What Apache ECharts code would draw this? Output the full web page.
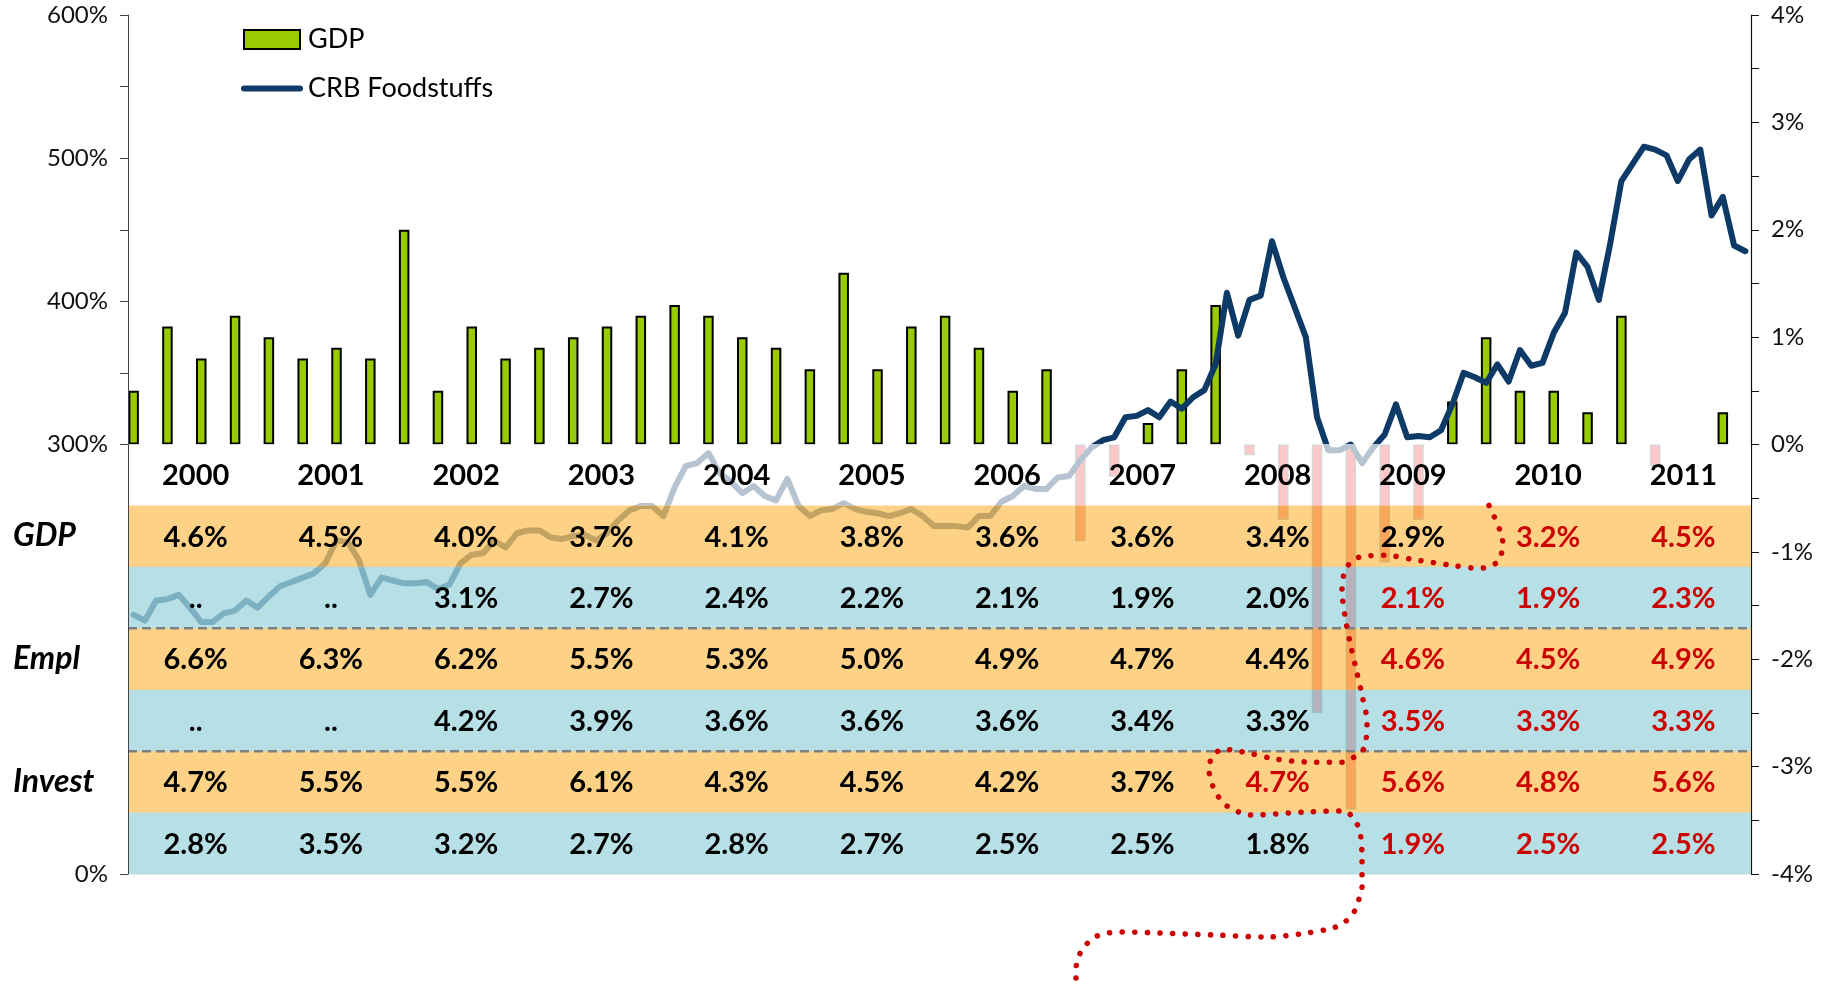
<!DOCTYPE html>
<html><head><meta charset="utf-8">
<script src="https://cdn.jsdelivr.net/npm/echarts@6/dist/echarts.min.js"></script>
<style>html,body{margin:0;padding:0;background:#fff}#c{width:1827px;height:984px}</style>
</head><body><div id="c"></div>
<script>
// ---------- data ----------
const years = ['2000','2001','2002','2003','2004','2005','2006','2007','2008','2009','2010','2011'];
const gdpQuarterly = [
  0.5,1.1,0.8,1.2, 1.0,0.8,0.9,0.8, 2.0,0.5,1.1,0.8, 0.9,1.0,1.1,1.2,
  1.3,1.2,1.0,0.9, 0.7,1.6,0.7,1.1, 1.2,0.9,0.5,0.7, -0.9,-0.3,0.2,0.7,
  1.3,-0.1,-0.7,-2.5, -3.4,-1.1,-0.7,0.4, 1.0,0.5,0.5,0.3, 1.2,-0.2,0.0,0.3
];
const crbMonthly = [
  181,177,191,192,195,186,176,176,182,184,191,186,
  194,201,204,207,210,217,233,232,219,195,207,205,
  203,203,204,199,202,217,223,224,233,228,238,240,
  240,235,234,236,237,233,238,247,254,257,257,250,
  270,285,287,294,280,274,266,271,264,261,276,257,
  250,254,255,259,255,253,252,250,252,255,250,243,
  243,243,242,250,250,260,264,271,269,269,277,278,
  289,298,303,305,319,320,324,319,330,325,333,338,
  356,406,376,401,404,442,417,396,375,319,296,296,
  300,287,298,307,328,305,306,305,310,328,350,347,
  343,356,344,366,355,357,378,392,434,424,401,440,
  484,496,508,506,502,484,499,506,460,473,439,435
];
const leftTickValues = [0,300,350,400,450,500,550,600];
const leftLabelValues = [0,300,400,500,600];
const rowNames = ['', 'GDP', '', 'Empl', '', 'Invest', ''];
const gdpRowA = ['4.6%','4.5%','4.0%','3.7%','4.1%','3.8%','3.6%','3.6%','3.4%','2.9%','3.2%','4.5%'];
const gdpRowB = ['..','..','3.1%','2.7%','2.4%','2.2%','2.1%','1.9%','2.0%','2.1%','1.9%','2.3%'];
const emplRowA = ['6.6%','6.3%','6.2%','5.5%','5.3%','5.0%','4.9%','4.7%','4.4%','4.6%','4.5%','4.9%'];
const emplRowB = ['..','..','4.2%','3.9%','3.6%','3.6%','3.6%','3.4%','3.3%','3.5%','3.3%','3.3%'];
const investRowA = ['4.7%','5.5%','5.5%','6.1%','4.3%','4.5%','4.2%','3.7%','4.7%','5.6%','4.8%','5.6%'];
const investRowB = ['2.8%','3.5%','3.2%','2.7%','2.8%','2.7%','2.5%','2.5%','1.8%','1.9%','2.5%','2.5%'];
const firstForecastYear = [null, '2010', '2009', '2009', '2009', '2008', '2009'];
// hand-drawn annotation path: [years since 2000, left-axis value]
const annotationPath = [
  [10.063,257.4],[10.144,240.0],[10.166,230.2],[10.122,217.7],[9.989,213.5],[9.789,215.6],
  [9.494,219.8],[9.301,222.6],[9.102,221.2],[9.006,213.5],[8.976,198.1],[8.998,180.0],
  [9.035,161.9],[9.080,143.0],[9.124,124.9],[9.161,106.0],[9.139,87.9],[9.065,81.6],
  [8.976,78.1],[8.776,78.1],[8.488,80.2],[8.288,84.4],[8.096,87.2],[8.015,81.6],
  [7.993,72.6],[8.015,62.8],[8.059,54.4],[8.126,47.4],[8.303,41.2],[8.695,43.3],
  [8.991,44.0],[9.065,38.4],[9.109,29.3],[9.124,10.5],[9.124,-8.4],[9.102,-17.4],
  [9.065,-26.5],[8.998,-33.5],[8.909,-37.7],[8.717,-41.2],[8.429,-44.0],[8.030,-42.6],
  [7.630,-41.2],[7.342,-40.5],[7.246,-41.2],[7.150,-44.0],[7.076,-50.2],[7.024,-58.6],
  [7.009,-67.7],[7.009,-76.7]
];

// ---------- derived ----------
const monthNames = [];
years.forEach(y => { for (let m = 1; m <= 12; m++) monthNames.push(y + '-' + (m < 10 ? '0' + m : m)); });
const gdpMonthly = monthNames.map((_, i) => {
  if (i % 3 !== 0) return null;
  const v = gdpQuarterly[i / 3];
  if (v === 0) return { value: v, itemStyle: { borderWidth: 0 } };
  if (v < 0) return { value: v, itemStyle: { color: '#ff4444', borderColor: '#777', borderWidth: 1.5 } };
  return v;
});
const tableRows = [years, gdpRowA, gdpRowB, emplRowA, emplRowB, investRowA, investRowB];
const tableData = [];
tableRows.forEach((row, r) => row.forEach((_, c) => tableData.push([c, r])));

const FONT = 'Lato, "Open Sans", sans-serif';
const NAVY = '#0d3a66';
const chart = echarts.init(document.getElementById('c'), null, { renderer: 'canvas' });
chart.setOption({
  animation: false,
  backgroundColor: '#fff',
  legend: {
    left: 236, top: 21, orient: 'vertical', itemWidth: 56, itemHeight: 19, itemGap: 22,
    textStyle: { fontFamily: FONT, fontSize: 27, color: '#000', padding: [0, 0, 0, 3] },
    data: [
      { name: 'GDP', icon: 'rect', itemStyle: { color: '#99cc00', borderColor: '#000', borderWidth: 2 } },
      { name: 'CRB Foodstuffs', lineStyle: { width: 6, color: NAVY, cap: 'round' }, itemStyle: { opacity: 0 } }
    ]
  },
  grid: [
    { left: 128, right: 76, top: 15, bottom: 110 },
    { left: 128, right: 76, top: 444, bottom: 110 }
  ],
  xAxis: [
    { type: 'category', gridIndex: 0, data: monthNames, show: false, boundaryGap: true },
    { type: 'value', gridIndex: 0, min: 0, max: 12, show: false },
    { type: 'category', gridIndex: 1, data: years, show: false, boundaryGap: true }
  ],
  yAxis: [
    { type: 'value', gridIndex: 0, position: 'left', min: 0, max: 600, interval: 50, z: 15,
      splitLine: { show: false },
      axisLine: { show: true, lineStyle: { color: '#444', width: 1 } },
      axisTick: { show: true, length: 8, customValues: leftTickValues, lineStyle: { color: '#444' } },
      axisLabel: { customValues: leftLabelValues, formatter: v => v + '%', margin: 20,
        fontFamily: FONT, fontSize: 24, color: '#111' } },
    { type: 'value', gridIndex: 0, position: 'right', min: -4, max: 4, interval: 0.5,
      splitLine: { show: false },
      axisLine: { show: true, lineStyle: { color: '#111', width: 1.2 } },
      axisTick: { show: true, length: 8, lineStyle: { color: '#111' } },
      axisLabel: { formatter: v => Number.isInteger(v) ? v + '%' : '', margin: 20,
        fontFamily: FONT, fontSize: 24, color: '#111' } },
    { type: 'category', gridIndex: 1, data: rowNames, inverse: true,
      axisLine: { show: false }, axisTick: { show: false }, splitLine: { show: false },
      axisLabel: { align: 'left', margin: 115, fontFamily: FONT, fontSize: 32,
        fontWeight: 'bold', fontStyle: 'italic', color: '#000' } }
  ],
  series: [
    { name: 'GDP', type: 'bar', xAxisIndex: 0, yAxisIndex: 1, data: gdpMonthly, barWidth: 10.5, z: 2,
      itemStyle: { color: '#99cc00', borderColor: '#000', borderWidth: 2 } },
    { name: 'CRB Foodstuffs', type: 'line', xAxisIndex: 0, yAxisIndex: 0, data: crbMonthly, z: 3,
      symbol: 'none', lineStyle: { color: NAVY, width: 6, join: 'round', cap: 'round' },
      itemStyle: { color: NAVY } },
    { type: 'custom', xAxisIndex: 2, yAxisIndex: 2, data: tableData, z: 10, silent: true, clip: false,
      renderItem: function (params, api) {
        const c = api.value(0), r = api.value(1);
        const p = api.coord([c, r]);
        const s = api.size([1, 1]);
        const x0 = p[0] - s[0] / 2, y0 = p[1] - s[1] / 2;
        const children = [];
        if (c === 0) {
          const fill = r === 0 ? 'rgba(255,255,255,0.7)' : (r % 2 === 1 ? 'rgba(252,196,96,0.76)' : 'rgba(160,213,222,0.76)');
          children.push({ type: 'rect', shape: { x: x0, y: y0, width: s[0] * years.length, height: s[1] + 0.5 }, style: { fill: fill } });
          if (r === 3 || r === 5) {
            children.push({ type: 'line', z2: 5, shape: { x1: x0, y1: y0, x2: x0 + s[0] * years.length, y2: y0 },
              style: { stroke: '#808080', lineWidth: 2.5, lineDash: [9, 5] } });
          }
        }
        const ff = firstForecastYear[r];
        const red = ff !== null && years[c] >= ff;
        children.push({ type: 'text', z2: 10, x: p[0], y: p[1] + 1,
          style: { text: tableRows[r][c], fill: red ? '#cc0000' : '#000', align: 'center', verticalAlign: 'middle',
            font: 'bold 29px ' + FONT } });
        return { type: 'group', children: children };
      } },
    { type: 'line', xAxisIndex: 1, yAxisIndex: 0, data: annotationPath, z: 20, clip: false, silent: true,
      symbol: 'none', smooth: 0.3,
      lineStyle: { color: '#cc0000', width: 5.5, type: [0.1, 12.5], cap: 'round' } }
  ]
});
</script></body></html>
